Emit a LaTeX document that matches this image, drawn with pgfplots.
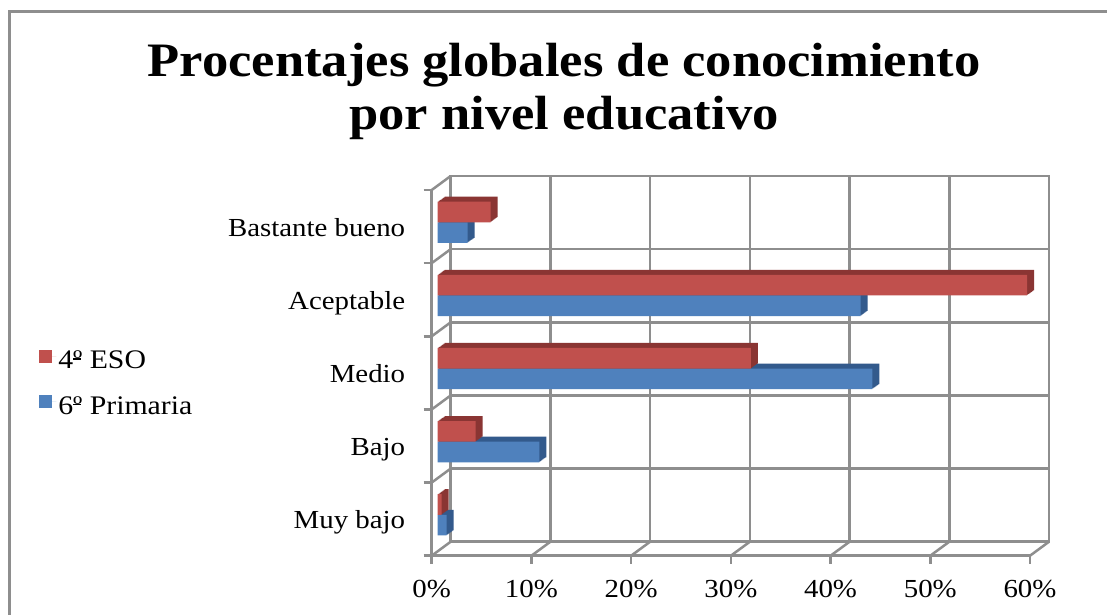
\documentclass[border=0pt]{standalone}
\usepackage{pgfplots}
\pgfplotsset{compat=1.18}
\usepackage{fontspec}
\setmainfont[FakeStretch=1.11]{Liberation Serif}
\newfontfamily\titlefont[FakeStretch=1.095]{Liberation Serif}

\definecolor{rojo}{HTML}{C0504D}
\definecolor{rojoosc}{HTML}{8A3533}
\definecolor{azul}{HTML}{4F81BD}
\definecolor{azulosc}{HTML}{335A8C}
\definecolor{rejilla}{HTML}{8E8E8E}

% underlined ordinal sign, as in the legend
\newcommand{\ordo}{\makebox[0pt][l]{\rule[0.34em]{0.31em}{0.05em}}º}

% rows: 0 = Muy bajo ... 4 = Bastante bueno
\begin{document}
\begin{tikzpicture}[x=1pt,y=1pt]
\useasboundingbox (0,0) rectangle (1107,-614);
\fill[white] (0,0) rectangle (1107,-614);
\draw[rejilla,line width=2.7pt] (9.5,-630) -- (9.5,-11.5) -- (1120,-11.5);

\node[font=\titlefont\fontsize{48}{53}\selectfont\bfseries,align=center] at (564,-91)
  {Procentajes globales de conocimiento\\por nivel educativo};

% back wall
\begin{axis}[
  at={(450.7pt,-541.7pt)}, anchor=south west,
  scale only axis, width=598.3pt, height=365.7pt,
  xmin=0, xmax=60, ymin=-0.5, ymax=4.5,
  xtick={0,10,...,60}, ytick={-0.5,0.5,...,4.5},
  xticklabels={}, yticklabels={},
  major tick length=0pt,
  grid=major,
  grid style={rejilla,line width=2.5pt},
  axis line style={rejilla,line width=2.5pt},
]
\end{axis}

% front plane: ticks, labels and the bars
\begin{axis}[
  at={(431.7pt,-555.7pt)}, anchor=south west,
  scale only axis, width=598.3pt, height=365.7pt,
  xmin=0, xmax=60, ymin=-0.5, ymax=4.5,
  clip=false,
  axis x line*=bottom, axis y line*=left,
  axis line style={rejilla,line width=2.5pt,-},
  tick style={rejilla,line width=2.5pt},
  tick align=outside, major tick length=8pt,
  xtick={0,10,...,60},
  xticklabel={\pgfmathprintnumber{\tick}\%},
  ytick={-0.5,0.5,...,4.5}, yticklabels={},
  extra y ticks={0,1,2,3,4},
  extra y tick labels={Muy bajo,Bajo,Medio,Aceptable,Bastante bueno},
  extra y tick style={major tick length=0pt,
    yticklabel style={xshift=-23pt,text height=19pt,text depth=0pt}},
  xticklabel style={yshift=-13pt},
  tick label style={font=\fontsize{26}{31}\selectfont},
  /pgf/number format/assume math mode=true,
  legend cell align=left,
  legend style={at={(-0.657,0.566)},anchor=north west,draw=none,fill=none,inner sep=0pt,
    font=\fontsize{26.8}{31}\selectfont,row sep=22pt},
  legend image code/.code={\fill[#1] (0pt,-6.7pt) rectangle (13.5pt,6.7pt);
    \path (0pt,0pt) -- (17.5pt,0pt);},
  reverse legend,
  bar width=20.6pt,
]
% depth of the blue bars
\pgfplotsinvokeforeach{1,2,3,4,5,6,7}{
  \addplot[forget plot,xbar,bar shift=-10.3pt,draw=none,fill=azulosc,
    xshift=6pt+#1pt,yshift=4.3pt+#1*0.72pt] coordinates
    {(0.9,0) (10.2,1) (43.6,2) (42.4,3) (3.0,4)};
}
\addplot[xbar,bar shift=-10.3pt,draw=none,fill=azul,xshift=6pt,yshift=4.3pt] coordinates
    {(0.9,0) (10.2,1) (43.6,2) (42.4,3) (3.0,4)};
\addlegendentry{6\ordo{} Primaria}
% depth of the red bars
\pgfplotsinvokeforeach{1,2,3,4,5,6,7}{
  \addplot[forget plot,xbar,bar shift=10.3pt,draw=none,fill=rojoosc,
    xshift=6pt+#1pt,yshift=4.3pt+#1*0.72pt] coordinates
    {(0.4,0) (3.8,1) (31.4,2) (59.1,3) (5.3,4)};
}
\addplot[xbar,bar shift=10.3pt,draw=none,fill=rojo,xshift=6pt,yshift=4.3pt] coordinates
    {(0.4,0) (3.8,1) (31.4,2) (59.1,3) (5.3,4)};
\addlegendentry{4\ordo{} ESO}
% connectors between front plane and wall
\pgfplotsinvokeforeach{0,10,20,30,40,50,60}{
  \draw[rejilla,line width=2.5pt] (axis cs:#1,-0.5) -- ++(19pt,14pt);
}
\pgfplotsinvokeforeach{0.5,1.5,2.5,3.5,4.5}{
  \draw[rejilla,line width=2.5pt] (axis cs:0,#1) -- ++(19pt,14pt);
}
\end{axis}
\end{tikzpicture}
\end{document}
